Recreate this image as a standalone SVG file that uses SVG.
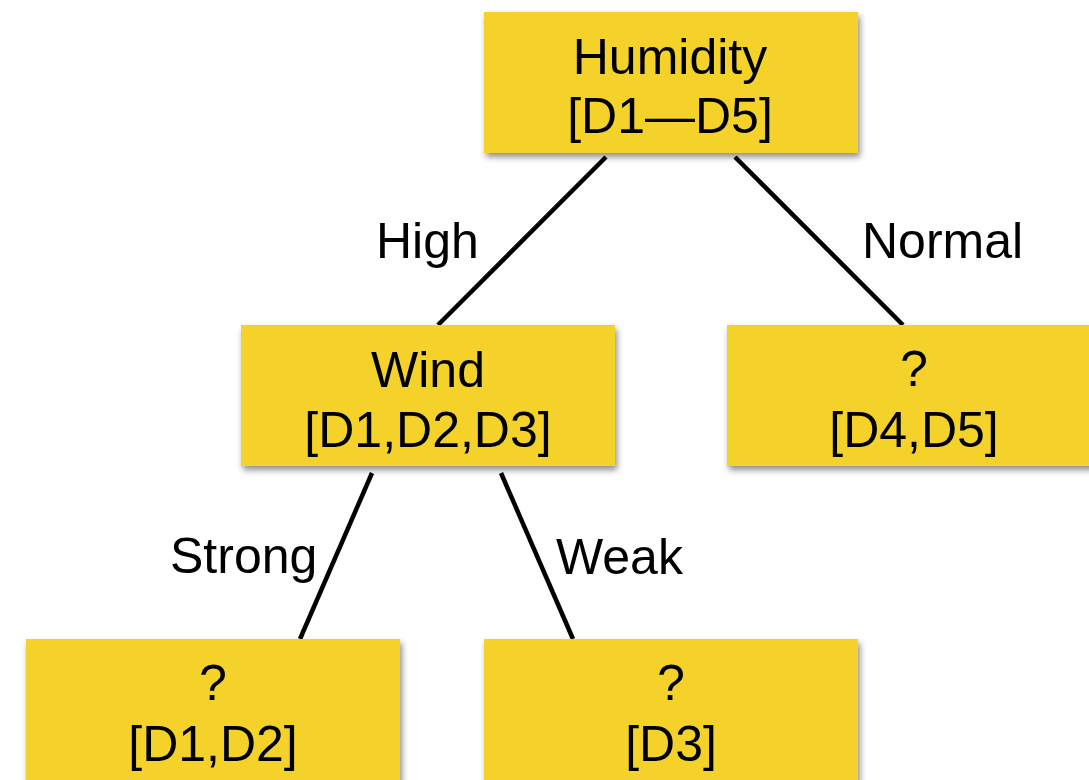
<svg xmlns="http://www.w3.org/2000/svg" width="1089" height="780" viewBox="0 0 1089 780">
  <defs>
    <filter id="shadow" x="-10%" y="-10%" width="120%" height="130%">
      <feDropShadow dx="2" dy="4" stdDeviation="3" flood-color="#000" flood-opacity="0.45"/>
    </filter>
  </defs>
  <style>
    .box { fill: #F4D22A; filter: url(#shadow); }
    .t { font-family: "Liberation Sans", Arial, sans-serif; font-size: 50px; fill: #000; }
    .c { text-anchor: middle; }
    .edge { stroke: #000; stroke-width: 4.5; fill: none; }
  </style>
  <rect width="1089" height="780" fill="#fff"/>
  <g id="connectors">
    <line class="edge" x1="606" y1="157" x2="438" y2="325"/>
    <line class="edge" x1="735" y1="157" x2="903" y2="325"/>
    <line class="edge" x1="372" y1="473" x2="300" y2="639"/>
    <line class="edge" x1="501" y1="473" x2="573" y2="639"/>
    <text class="t" x="376" y="258">High</text>
    <text class="t" x="862" y="258">Normal</text>
    <text class="t" x="170" y="573">Strong</text>
    <text class="t" x="556" y="574">Weak</text>
  </g>
  <g id="humidity">
    <rect class="box" x="484" y="12" width="374" height="141"/>
    <text class="t c" x="670" y="74">Humidity</text>
    <text class="t c" x="670" y="133">[D1—D5]</text>
  </g>
  <g id="wind">
    <rect class="box" x="241" y="325" width="374" height="141"/>
    <text class="t c" x="428" y="387">Wind</text>
    <text class="t c" x="428" y="447">[D1,D2,D3]</text>
  </g>
  <g id="d4d5">
    <rect class="box" x="727" y="325" width="374" height="141"/>
    <text class="t c" x="914" y="386">?</text>
    <text class="t c" x="914" y="447">[D4,D5]</text>
  </g>
  <g id="d1d2">
    <rect class="box" x="26" y="639" width="374" height="150"/>
    <text class="t c" x="213" y="700">?</text>
    <text class="t c" x="213" y="761">[D1,D2]</text>
  </g>
  <g id="d3">
    <rect class="box" x="484" y="639" width="374" height="150"/>
    <text class="t c" x="671" y="700">?</text>
    <text class="t c" x="671" y="761">[D3]</text>
  </g>
</svg>
